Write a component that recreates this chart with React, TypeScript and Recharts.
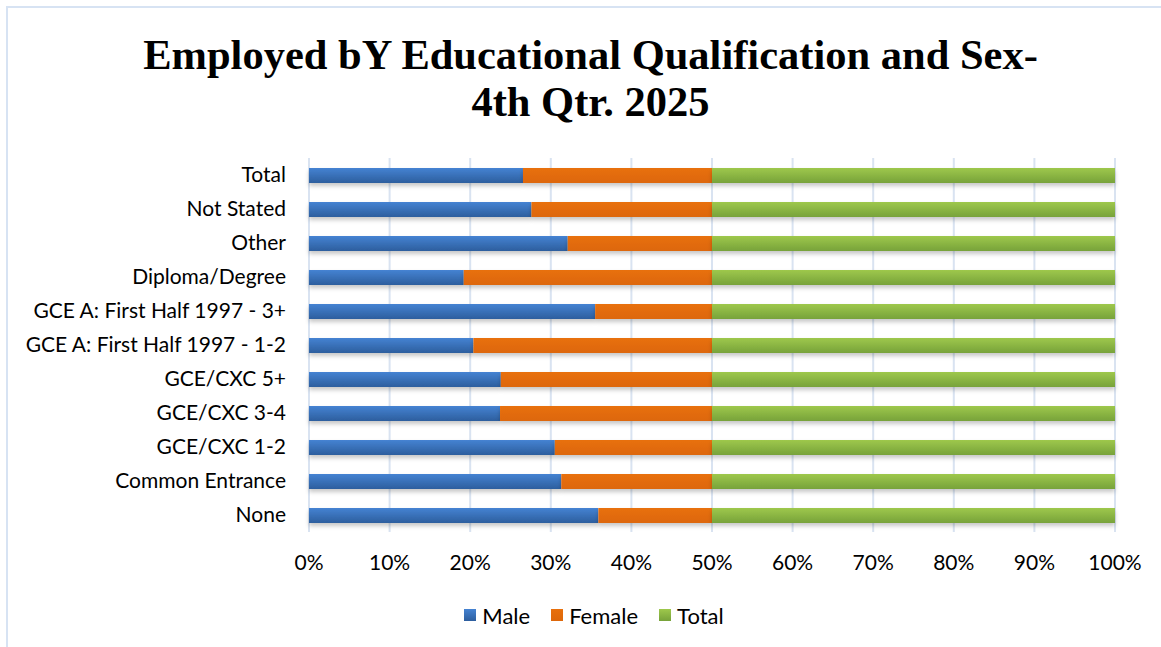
import React from "react";
import { BarChart, Bar, XAxis, YAxis, CartesianGrid, Legend } from "recharts";

// shares of employed persons (%), top row first as in the picture
const categories = [
  "Total",
  "Not Stated",
  "Other",
  "Diploma/Degree",
  "GCE A: First Half 1997 - 3+",
  "GCE A: First Half 1997 - 1-2",
  "GCE/CXC 5+",
  "GCE/CXC 3-4",
  "GCE/CXC 1-2",
  "Common Entrance",
  "None",
];
const male = [53.1, 55.2, 64.2, 38.4, 71.0, 40.8, 47.6, 47.4, 61.0, 62.6, 71.8];
const female = [46.9, 44.8, 35.8, 61.6, 29.0, 59.2, 52.4, 52.6, 39.0, 37.4, 28.2];
const total = [100, 100, 100, 100, 100, 100, 100, 100, 100, 100, 100];
const seriesNames = ["Male", "Female", "Total"];
const percentTicks = [0, 0.1, 0.2, 0.3, 0.4, 0.5, 0.6, 0.7, 0.8, 0.9, 1];

const data = categories.map((name, i) => ({
  name,
  Male: male[i],
  Female: female[i],
  Total: total[i],
}));

const FONT = "Lato, 'Open Sans', sans-serif";

const renderLegend = (props: any) => {
  const items = [...(props.payload || [])].sort(
    (a: any, b: any) => seriesNames.indexOf(a.value) - seriesNames.indexOf(b.value)
  );
  return (
    <div style={{ display: "flex", justifyContent: "center", alignItems: "center", height: 30, fontFamily: FONT, fontSize: 22, color: "#000" }}>
      {items.map((it: any, i: number) => (
        <span key={it.value} style={{ display: "inline-flex", alignItems: "center", marginRight: i < items.length - 1 ? 21 : 0 }}>
          <svg width={12} height={12} style={{ marginRight: 6 }}>
            <rect width={12} height={12} fill={it.color} />
          </svg>
          {it.value}
        </span>
      ))}
    </div>
  );
};

export default function App() {
  return (
    <div
      style={{
        position: "absolute",
        left: 6,
        top: 6,
        width: 1155,
        height: 641,
        overflow: "hidden",
        borderLeft: "2px solid #d7e3f3",
        borderTop: "2px solid #d7e3f3",
        boxSizing: "border-box",
        background: "#fff",
      }}
    >
      <div
        style={{
          position: "absolute",
          left: 0,
          top: 23,
          width: 1165,
          textAlign: "center",
          fontFamily: "'Liberation Serif', 'Times New Roman', serif",
          fontWeight: "bold",
          fontSize: 42.5,
          lineHeight: "47px",
          color: "#000",
        }}
      >
        Employed bY Educational Qualification and Sex-
        <br />
        4th Qtr. 2025
      </div>
      <BarChart
        width={1170}
        height={639}
        data={data}
        layout="vertical"
        stackOffset="expand"
        barSize={15}
        margin={{ top: 150, right: 63, left: 0, bottom: 17 }}
      >
        <defs>
          <linearGradient id="gMale" x1="0" y1="0" x2="0" y2="1">
            <stop offset="0%" stopColor="#4583d2" />
            <stop offset="100%" stopColor="#2d5e9e" />
          </linearGradient>
          <linearGradient id="gFemale" x1="0" y1="0" x2="0" y2="1">
            <stop offset="0%" stopColor="#e8700c" />
            <stop offset="100%" stopColor="#dd670a" />
          </linearGradient>
          <linearGradient id="gTotal" x1="0" y1="0" x2="0" y2="1">
            <stop offset="0%" stopColor="#9ec84c" />
            <stop offset="100%" stopColor="#77a23a" />
          </linearGradient>
          <filter id="barShadow" x="-5%" y="-50%" width="110%" height="200%">
            <feDropShadow dx="0" dy="3" stdDeviation="2" floodColor="#000" floodOpacity="0.22" />
          </filter>
        </defs>
        <CartesianGrid horizontal={false} stroke="#d9e3f1" strokeWidth={2} />
        <XAxis
          type="number"
          ticks={percentTicks}
          domain={[0, 1]}
          tickFormatter={(v: number) => `${Math.round(v * 100)}%`}
          axisLine={false}
          tickLine={false}
          tickSize={0}
          tickMargin={23}
          height={68}
          interval={0}
          tick={{ fill: "#000", fontSize: 21, fontFamily: FONT }}
        />
        <YAxis
          type="category"
          dataKey="name"
          width={301}
          axisLine={false}
          tickLine={false}
          tickSize={0}
          tickMargin={23}
          interval={0}
          tick={{ fill: "#000", fontSize: 21, fontFamily: FONT }}
        />
        <Legend
          verticalAlign="bottom"
          height={30}
          content={renderLegend}
          wrapperStyle={{ left: 0, width: 1172 }}
        />
        <Bar dataKey="Male" stackId="a" fill="url(#gMale)" filter="url(#barShadow)" isAnimationActive={false} />
        <Bar dataKey="Female" stackId="a" fill="url(#gFemale)" filter="url(#barShadow)" isAnimationActive={false} />
        <Bar dataKey="Total" stackId="a" fill="url(#gTotal)" filter="url(#barShadow)" isAnimationActive={false} />
      </BarChart>
    </div>
  );
}
